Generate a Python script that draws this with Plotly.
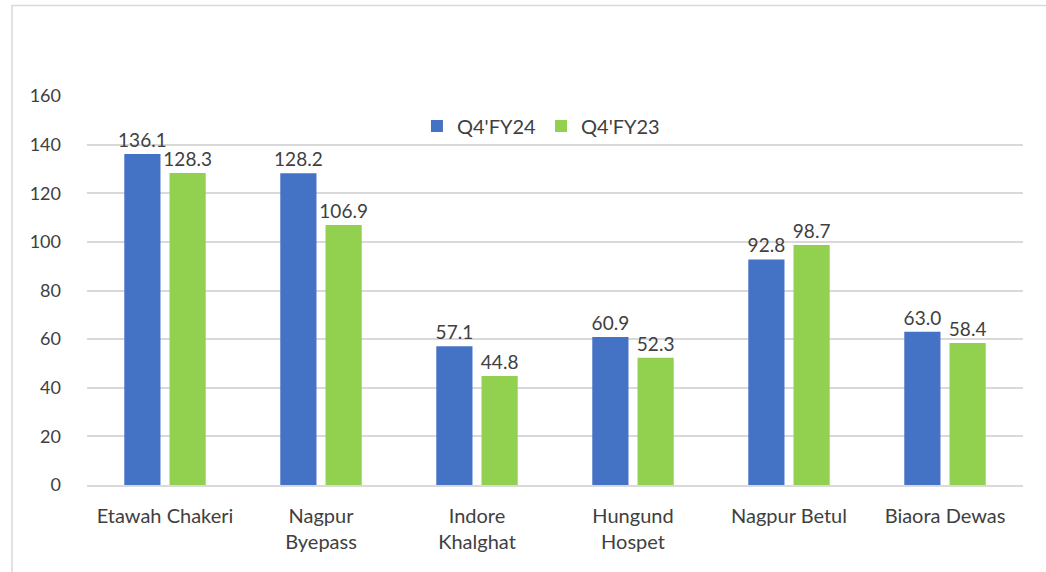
import plotly.graph_objects as go

categories = ["Etawah Chakeri", "Nagpur<br>Byepass", "Indore<br>Khalghat", "Hungund<br>Hospet", "Nagpur Betul", "Biaora Dewas"]
q4fy24 = [136.1, 128.2, 57.1, 60.9, 92.8, 63.0]
q4fy23 = [128.3, 106.9, 44.8, 52.3, 98.7, 58.4]
series_names = ["Q4'FY24", "Q4'FY23"]
colors = ["#4472C4", "#92D050"]

FONT = "Lato, Open Sans, sans-serif"
TXT = "#404040"

fig = go.Figure()
for name, vals, col in zip(series_names, [q4fy24, q4fy23], colors):
    fig.add_trace(go.Bar(
        x=categories, y=vals, name=name, marker_color=col,
        marker_line_width=0,
        text=[f"{v:.1f}" for v in vals], textposition="outside",
        textfont=dict(family=FONT, size=19, color=TXT),
        cliponaxis=False,
    ))

W, H = 1046, 572
ml, mr, mt, mb = 87, 23, 96, 87
pw, ph = W - ml - mr, H - mt - mb

fig.update_layout(
    width=W, height=H,
    margin=dict(l=ml, r=mr, t=mt, b=mb, autoexpand=False),
    paper_bgcolor="white", plot_bgcolor="white",
    barmode="group", bargap=0.42, bargroupgap=0.2,
    uniformtext=dict(minsize=19, mode="show"),
    font=dict(family=FONT, size=18, color=TXT),
    showlegend=True,
    legend=dict(orientation="h", x=0.485, xanchor="center", y=0.923, yanchor="middle",
                font=dict(family=FONT, size=20, color=TXT), itemwidth=30,
                bgcolor="rgba(0,0,0,0)", traceorder="normal"),
    xaxis=dict(showgrid=False, showline=True, linecolor="#D9D9D9", linewidth=1.5,
               ticks="", ticklabelstandoff=12,
               tickfont=dict(family=FONT, size=20, color=TXT)),
    yaxis=dict(range=[0, 160], dtick=20, showgrid=True, gridcolor="#D9D9D9", gridwidth=1.5,
               zeroline=False, showline=False, ticks="", ticklabelstandoff=25,
               tickfont=dict(family=FONT, size=18, color=TXT)),
    shapes=[dict(type="rect", xref="paper", yref="paper",
                 x0=(12 - ml) / pw, x1=(1060 - ml) / pw,
                 y0=(H - mb - 600) / ph, y1=(H - mb - 5.5) / ph,
                 line=dict(color="#D9D9D9", width=1.5), fillcolor="rgba(0,0,0,0)", layer="below")],
)

fig.write_html("out.html", config={"displayModeBar": False},
               post_script="document.body.style.margin='0';document.body.style.overflow='hidden';")
